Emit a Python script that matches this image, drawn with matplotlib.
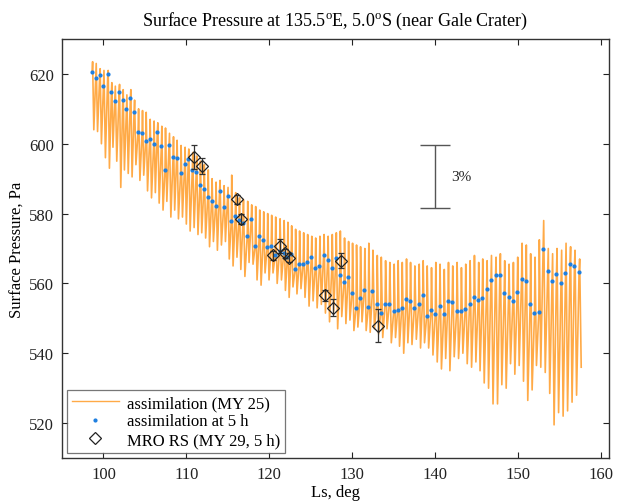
import matplotlib
matplotlib.use('Agg')
import matplotlib.pyplot as plt
import numpy as np

# ---------------- data ----------------
ls_5h = [98.64, 99.07, 99.55, 100.00, 100.52, 100.96, 101.37, 101.89, 102.33, 102.77,
         103.25, 103.70, 104.18, 104.66, 105.10, 105.58, 106.06, 106.50, 106.99, 107.43,
         107.91, 108.40, 108.83, 109.31, 109.80, 110.24, 110.72, 111.20, 111.65, 112.11,
         112.59, 113.05, 113.53, 114.01, 114.50, 114.98, 115.42, 115.90, 116.36, 116.83,
         117.35, 117.83, 118.31, 118.80, 119.28, 119.76, 120.24, 120.72, 121.25, 121.75,
         122.20, 122.65, 123.13, 123.61, 124.10, 124.58, 125.08, 125.55, 126.06, 126.56,
         127.05, 127.55, 128.04, 128.52, 129.03, 129.52, 130.00, 130.48, 130.96, 131.48,
         131.96, 132.45, 132.98, 133.46, 133.98, 134.49, 135.02, 135.50, 135.99, 136.51,
         136.99, 137.51, 138.04, 138.52, 139.00, 139.52, 140.04, 140.55, 141.06, 141.57,
         142.08, 142.61, 143.13, 143.65, 144.18, 144.70, 145.22, 145.70, 146.23, 146.75,
         147.31, 147.83, 148.35, 148.88, 149.40, 149.92, 150.45, 150.96, 151.48, 152.01,
         152.53, 153.05, 153.61, 154.13, 154.66, 155.22, 155.75, 156.30, 156.83, 157.39]

p_5h = [620.6, 618.9, 619.6, 616.5, 619.9, 614.8, 612.2, 614.9, 612.6, 610.0,
        613.2, 609.2, 603.5, 603.2, 600.9, 601.5, 599.8, 603.3, 599.3, 592.4,
        599.7, 596.1, 595.9, 591.5, 594.3, 595.6, 592.4, 592.0, 588.3, 587.1,
        584.8, 583.7, 582.2, 586.5, 581.8, 584.9, 577.8, 579.2, 578.3, 577.4,
        573.7, 578.4, 570.7, 573.6, 572.4, 570.5, 570.6, 568.0, 569.4, 568.6,
        567.5, 568.5, 564.0, 565.5, 565.7, 566.1, 567.5, 564.4, 565.0, 568.0,
        566.6, 564.3, 567.2, 562.4, 560.5, 561.7, 557.2, 553.0, 555.7, 558.1,
        553.2, 557.8, 554.1, 551.5, 554.1, 554.0, 552.0, 552.3, 553.0, 555.5,
        554.9, 552.9, 554.1, 556.6, 550.7, 552.4, 551.3, 553.4, 551.2, 555.0,
        554.7, 552.1, 552.2, 552.6, 554.2, 556.0, 555.2, 555.9, 558.3, 561.0,
        562.3, 562.4, 557.2, 556.1, 554.9, 557.4, 561.3, 560.7, 554.0, 551.5,
        551.9, 569.8, 563.5, 560.7, 562.6, 560.1, 563.0, 565.7, 564.9, 563.4]

p_max = [623.5, 623.0, 621.5, 621.0, 621.0, 617.5, 616.5, 617.0, 615.5, 614.0,
         615.5, 612.5, 610.0, 609.5, 609.0, 607.0, 606.5, 606.0, 605.0, 604.5,
         603.0, 602.0, 601.0, 599.5, 599.0, 598.5, 597.5, 596.5, 595.0, 594.0,
         592.5, 590.0, 589.0, 589.5, 588.0, 587.5, 591.0, 586.0, 584.5, 584.0,
         583.5, 582.5, 582.0, 581.0, 580.5, 580.0, 579.5, 579.0, 578.5, 578.0,
         577.5, 576.5, 575.5, 575.0, 574.5, 574.0, 573.5, 573.0, 573.5, 574.0,
         573.5, 574.0, 574.5, 575.0, 573.0, 572.0, 571.5, 571.0, 570.5, 570.0,
         571.5, 569.5, 568.0, 567.5, 566.5, 566.0, 565.5, 566.5, 566.0, 567.0,
         566.0, 565.0, 565.5, 566.5, 565.0, 564.5, 566.0, 565.5, 564.0, 566.0,
         565.0, 566.0, 564.5, 565.5, 566.5, 568.0, 566.0, 567.0, 566.5, 568.0,
         567.5, 568.5, 566.5, 565.5, 566.0, 567.5, 571.5, 571.0, 568.5, 567.5,
         572.5, 578.0, 570.0, 568.5, 570.0, 569.5, 571.5, 570.5, 569.5, 567.0]

p_min = [604.0, 603.5, 600.0, 596.0, 593.0, 599.0, 595.0, 587.5, 592.5, 591.5,
         590.5, 594.0, 589.5, 591.0, 586.5, 584.5, 586.0, 583.0, 581.0, 583.5,
         579.0, 581.0, 578.5, 579.0, 577.0, 575.0, 576.0, 574.0, 574.5, 573.0,
         570.5, 572.0, 569.5, 571.0, 572.0, 567.0, 565.0, 567.5, 564.0, 562.0,
         566.0, 565.5, 561.0, 559.5, 563.0, 561.0, 563.0, 560.0, 561.0, 558.0,
         556.0, 559.0, 557.0, 558.5, 556.0, 553.5, 555.0, 553.0, 554.0, 551.5,
         549.0, 552.0, 547.0, 550.5, 548.5, 549.5, 546.5, 547.5, 549.0, 546.5,
         546.0, 547.0, 545.5, 544.5, 547.0, 543.0, 544.5, 542.0, 540.0, 543.0,
         542.5, 544.0, 541.5, 543.0, 541.5, 539.5, 537.5, 535.5, 538.5, 535.0,
         539.0, 538.5, 540.0, 537.0, 536.0, 537.5, 535.0, 531.5, 530.0, 525.5,
         525.5, 531.0, 530.0, 537.0, 534.0, 536.5, 532.0, 526.5, 529.5, 536.5,
         536.0, 534.5, 528.5, 519.5, 523.0, 522.0, 523.5, 526.0, 528.0, 536.0]

mro_ls = [110.88, 111.85, 116.10, 116.60, 120.44, 121.33, 121.85, 122.33, 126.75, 127.67, 128.71, 133.17]
mro_p = [596.2, 593.6, 584.1, 578.5, 568.0, 570.7, 568.6, 567.4, 556.6, 553.1, 566.5, 547.9]
mro_err = [3.4, 2.3, 1.3, 1.5, 1.3, 2.0, 1.3, 1.3, 1.5, 2.3, 2.1, 4.8]

# ---------------- style ----------------
plt.rcParams['font.family'] = ['Liberation Serif', 'DejaVu Serif']
plt.rcParams['mathtext.fontset'] = 'custom'
plt.rcParams['mathtext.rm'] = 'Liberation Serif'

fig = plt.figure(figsize=(6.19, 5.02), dpi=100)
ax = fig.add_axes([62 / 619, 43 / 502, 547 / 619, 419 / 502])

# build diurnal line: 5 h value, morning max, afternoon min, per sol
ls5 = np.array(ls_5h)
step = np.append(np.diff(ls5), np.diff(ls5)[-1])
xs, ys = [], []
for i in range(len(ls5)):
    xs += [ls5[i], ls5[i] + step[i] * 3 / 24, ls5[i] + step[i] * 11 / 24]
    ys += [p_5h[i], p_max[i], p_min[i]]

ax.plot(xs, ys, color='#FF8A00', lw=1.2, alpha=0.72, label='assimilation (MY 25)', zorder=2)
ax.plot(ls_5h, p_5h, ls='none', marker='.', color='#1E7FE0', ms=4,
        label='assimilation at 5 h', zorder=3)
ax.errorbar(mro_ls, mro_p, yerr=mro_err, fmt='none', ecolor='#333333',
            elinewidth=0.9, capsize=2.5, capthick=0.9, zorder=4)
ax.plot(mro_ls, mro_p, ls='none', marker='D', mfc='none', mec='#222222', mew=0.9,
        ms=6, label='MRO RS (MY 29, 5 h)', zorder=5)

# 3% scale bar
ax.errorbar([140.0], [590.5], yerr=[9.0], fmt='none', ecolor='#555555',
            elinewidth=1.0, capsize=11, capthick=1.0)
ax.text(142.0, 590.5, '3%', fontsize=11, va='center', ha='left', color='#222222')

ax.set_xlim(95, 161)
ax.set_ylim(510, 630)
ax.set_xticks([100, 110, 120, 130, 140, 150, 160])
ax.set_yticks([520, 540, 560, 580, 600, 620])
ax.tick_params(direction='in', top=True, right=True, length=4, width=0.8,
               labelsize=12, colors='#222222', pad=6)
for s in ax.spines.values():
    s.set_color('#333333')
    s.set_linewidth(1.0)

ax.set_xlabel('Ls, deg', fontsize=12, labelpad=1)
ax.set_ylabel('Surface Pressure, Pa', fontsize=12, labelpad=2)
ax.set_title('Surface Pressure at 135.5$^{\\rm o}$E, 5.0$^{\\rm o}$S (near Gale Crater)',
             fontsize=13, pad=10)

leg = ax.legend(loc='lower left', fontsize=12, frameon=True, fancybox=False,
                edgecolor='#555555', borderaxespad=0.3, handlelength=2.8,
                borderpad=0.3, labelspacing=0.15, handletextpad=0.5)
leg.get_frame().set_linewidth(0.9)
for h in leg.get_lines():
    h.set_linewidth(1.0)

fig.savefig('out.png', dpi=100)
